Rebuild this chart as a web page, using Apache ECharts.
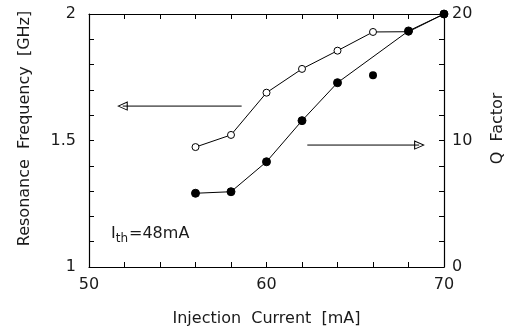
<!DOCTYPE html>
<html><head><meta charset="utf-8">
<script src="https://cdn.jsdelivr.net/npm/echarts@6/dist/echarts.min.js"></script>
<style>html,body{margin:0;padding:0;background:#fff}#c{width:519px;height:331px}</style>
</head><body><div id="c"></div>
<script>
// Data
const freqCurrent = [56, 58, 60, 62, 64, 66, 68, 70];
const freqValues = [1.474, 1.522, 1.689, 1.783, 1.855, 1.929, 1.93, 2.0];
const qCurrent = [56, 58, 60, 62, 64, 68, 70];
const qValues = [5.83, 5.95, 8.32, 11.57, 14.57, 18.66, 20.0];
const qOutlierCurrent = [66];
const qOutlierValues = [15.15];
const leftArrowX = [58.6, 51.9];
const leftArrowY = [1.636, 1.636];
const rightArrowX = [62.3, 68.6];
const rightArrowY = [9.64, 9.64];
const xTickLabels = [50, 60, 70];
const leftTickLabels = [1, 1.5, 2];
const rightTickLabels = [0, 10, 20];

const F = 'DejaVu Sans';
const C = '#1a1a1a';
const zip = (a, b) => a.map((v, i) => [v, b[i]]);
const near = (v, list) => list.some(t => Math.abs(t - v) < 1e-6);

const chart = echarts.init(document.getElementById('c'));
const mkLine = () => ({show: true, onZero: false, lineStyle: {color: '#000', width: 1.2}});
const mkTick = () => ({show: true, inside: true, length: 5, lineStyle: {color: '#000', width: 1}});
chart.setOption({
  animation: false,
  backgroundColor: '#fff',
  grid: {left: 89, right: 75, top: 14, bottom: 64, outerBoundsMode: 'none', containLabel: false},
  xAxis: [{
    type: 'value', min: 50, max: 70, interval: 2, position: 'bottom',
    axisLine: mkLine(), axisTick: mkTick(), splitLine: {show: false},
    axisLabel: {fontFamily: F, fontSize: 16, color: C, margin: 10,
      formatter: v => near(v, xTickLabels) ? String(v) : ''},
    name: 'Injection  Current  [mA]', nameLocation: 'middle', nameGap: 44,
    nameTextStyle: {fontFamily: F, fontSize: 16, color: C}
  }, {
    type: 'value', min: 50, max: 70, interval: 2, position: 'top',
    axisLine: mkLine(), axisTick: mkTick(), axisLabel: {show: false}, splitLine: {show: false}
  }],
  yAxis: [{
    type: 'value', min: 1, max: 2, interval: 0.1, position: 'left',
    axisLine: mkLine(), axisTick: mkTick(), splitLine: {show: false},
    axisLabel: {fontFamily: F, fontSize: 16, color: C, margin: 13,
      formatter: v => near(v, leftTickLabels) ? String(Math.round(v * 10) / 10) : ''},
    name: 'Resonance  Frequency  [GHz]', nameLocation: 'middle', nameGap: 56,
    nameTextStyle: {fontFamily: F, fontSize: 16, color: C, padding: [0, 0, 0, 24]}
  }, {
    type: 'value', min: 0, max: 20, interval: 2, position: 'right',
    axisLine: mkLine(), axisTick: mkTick(), splitLine: {show: false},
    axisLabel: {fontFamily: F, fontSize: 16, color: C, margin: 8,
      formatter: v => near(v, rightTickLabels) ? String(v) : ''},
    name: 'Q  Factor', nameLocation: 'middle', nameGap: 46, nameRotate: 90,
    nameTextStyle: {fontFamily: F, fontSize: 16, color: C, padding: [0, 0, 0, 24]}
  }],
  series: [{
    type: 'line', xAxisIndex: 0, yAxisIndex: 0, data: zip(freqCurrent, freqValues),
    symbol: 'circle', symbolSize: 7, showAllSymbol: true,
    lineStyle: {color: '#000', width: 1},
    itemStyle: {color: '#fff', borderColor: '#000', borderWidth: 1}
  }, {
    type: 'line', xAxisIndex: 0, yAxisIndex: 1, data: zip(qCurrent, qValues),
    symbol: 'circle', symbolSize: 8, showAllSymbol: true,
    lineStyle: {color: '#000', width: 1},
    itemStyle: {color: '#000', borderColor: '#000'}
  }, {
    type: 'scatter', xAxisIndex: 0, yAxisIndex: 1, data: zip(qOutlierCurrent, qOutlierValues),
    symbol: 'circle', symbolSize: 8, itemStyle: {color: '#000', opacity: 1}
  }, {
    type: 'line', xAxisIndex: 0, yAxisIndex: 0, data: zip(leftArrowX, leftArrowY),
    showSymbol: false, lineStyle: {color: '#000', width: 1}
  }, {
    type: 'scatter', xAxisIndex: 0, yAxisIndex: 0, data: [[leftArrowX[1], leftArrowY[1]]],
    symbol: 'triangle', symbolSize: [8, 9], symbolRotate: 90,
    itemStyle: {color: '#fff', borderColor: '#000', borderWidth: 1, opacity: 1}
  }, {
    type: 'line', xAxisIndex: 0, yAxisIndex: 1, data: zip(rightArrowX, rightArrowY),
    showSymbol: false, lineStyle: {color: '#000', width: 1}
  }, {
    type: 'scatter', xAxisIndex: 0, yAxisIndex: 1, data: [[rightArrowX[1], rightArrowY[1]]],
    symbol: 'triangle', symbolSize: [8, 9], symbolRotate: -90,
    itemStyle: {color: '#fff', borderColor: '#000', borderWidth: 1, opacity: 1}
  }],
  graphic: [{
    type: 'text', left: 111, top: 226,
    style: {
      text: '{i|I}{s|th}{n|=48mA}',
      rich: {
        i: {fontFamily: F, fontSize: 16, fill: C},
        s: {fontFamily: F, fontSize: 12, fill: C, verticalAlign: 'bottom', padding: [10, 1, 0, 0]},
        n: {fontFamily: F, fontSize: 16, fill: C}
      }
    }
  }]
});
</script></body></html>
